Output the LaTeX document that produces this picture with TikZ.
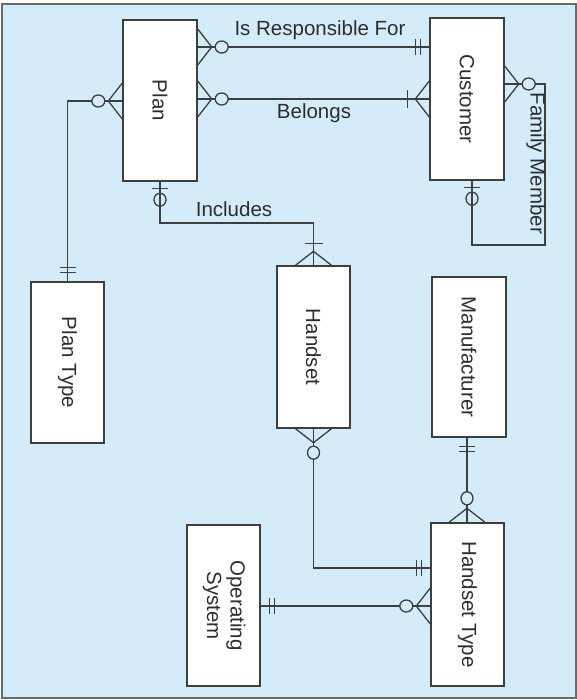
\documentclass[tikz,border=0pt]{standalone}
\usepackage{fontspec}
\setmainfont{Liberation Sans}
\definecolor{bg}{RGB}{212,236,250}
\definecolor{ln}{RGB}{62,62,62}
\definecolor{fr}{RGB}{105,105,105}
\definecolor{tx}{RGB}{45,45,45}
\begin{document}
\begin{tikzpicture}[x=1pt,y=-1pt,
  every node/.style={text=tx, font=\fontsize{20.5}{23.5}\selectfont, inner sep=0pt},
  entity/.style={draw=ln, fill=white, line width=1.4pt, rectangle, minimum width=73pt, minimum height=161pt},
  conn/.style={draw=ln, line width=1.3pt},
  zmany/.pic={\draw[conn] (0,18)--(14,0)--(0,-18); \draw[conn, fill=bg] (24,0) ellipse (6.5pt and 6pt);},
  omany/.pic={\draw[conn] (0,18)--(14,0)--(0,-18); \draw[conn] (22,-9)--(22,9);},
  oone/.pic={\draw[conn] (9,-8)--(9,8); \draw[conn] (14,-8)--(14,8);},
  zone/.pic={\draw[conn] (7,-8)--(7,8); \draw[conn] (18,0) ellipse (6.5pt and 6pt);}
]
\useasboundingbox (0,0) rectangle (577,700);
\draw[line width=2pt, draw=fr, fill=bg] (2,4) rectangle (576,698);

% entities
\node[entity, minimum width=74pt, minimum height=161pt] (plan) at (160,100.5) {\rotatebox{-90}{Plan}};
\node[entity, minimum width=74pt, minimum height=162pt] (customer) at (467,99) {\rotatebox{-90}{Customer}};
\node[entity, minimum width=73pt, minimum height=161pt] (plantype) at (67.5,362.5) {\rotatebox{-90}{Plan Type}};
\node[entity, minimum width=73pt, minimum height=162pt] (handset) at (313.5,347) {\rotatebox{-90}{Handset}};
\node[entity, minimum width=74pt, minimum height=160pt] (manufacturer) at (469,357) {\rotatebox{-90}{Manufacturer}};
\node[entity, minimum width=73pt, minimum height=163pt] (handsettype) at (467.5,604.5) {\rotatebox{-90}{Handset Type}};
\node[entity, minimum width=73pt, minimum height=161pt] (os) at (223.5,605.5) {\rotatebox{-90}{\begin{tabular}{@{}c@{}}Operating\\System\end{tabular}}};

% corner coordinates
\coordinate (fm1) at (545,84);
\coordinate (fm2) at (545,245);
\coordinate (fm3) at (472,245);
\coordinate (inc) at (160,223);

% connectors
\draw[conn] (plan.east |- 0,47) -- (customer.west |- 0,47);
\draw[conn] (plan.east |- 0,99) -- (customer.west |- 0,99);
\draw[conn] (plan.west |- 0,101) -| (plantype.north);
\draw[conn] (plan.south) -- (inc) -| (handset.north);
\draw[conn] (customer.east |- fm1) -- (fm1) -- (fm2) -- (fm3) -- (customer.south -| fm3);
\draw[conn] (handset.south) |- (handsettype.west |- 0,568);
\draw[conn] (manufacturer.south -| 467,0) -- (handsettype.north -| 467,0);
\draw[conn] (os.east |- 0,606) -- (handsettype.west |- 0,606);

% cardinality ends
\pic at (plan.east |- 0,47) {zmany};
\pic[rotate=180] at (customer.west |- 0,47) {oone};
\pic at (plan.east |- 0,99) {zmany};
\pic[rotate=180] at (customer.west |- 0,99) {omany};
\pic[rotate=180] at (plan.west |- 0,101) {zmany};
\pic[rotate=90] at (plantype.north) {oone};
\pic[rotate=-90] at (plan.south) {zone};
\pic[rotate=90] at (handset.north) {omany};
\pic at (customer.east |- fm1) {zmany};
\pic[rotate=-90] at (customer.south -| fm3) {zone};
\pic[rotate=-90] at (handset.south) {zmany};
\pic[rotate=180] at (handsettype.west |- 0,568) {oone};
\pic[rotate=-90] at (manufacturer.south -| 467,0) {oone};
\pic[rotate=90] at (handsettype.north -| 467,0) {zmany};
\pic at (os.east |- 0,606) {oone};
\pic[rotate=180] at (handsettype.west |- 0,606) {zmany};

% labels
\node (lresp) at (320,30) {Is Responsible For};
\node (lbel) at (314,113) {Belongs};
\node (linc) at (234,209) {Includes};
\node[rotate=-90] (lfam) at (536,163.5) {Family Member};
\end{tikzpicture}
\end{document}
